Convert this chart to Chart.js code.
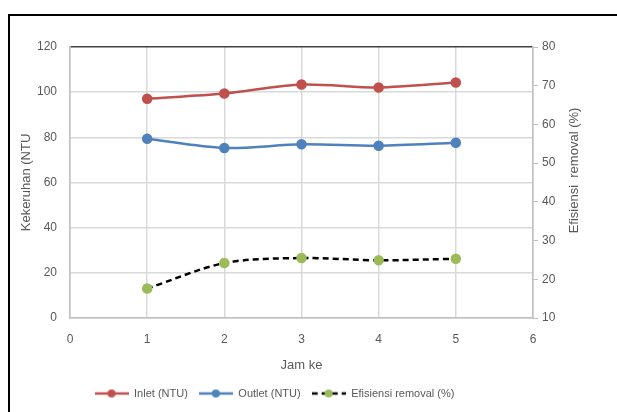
<!DOCTYPE html>
<html>
<head>
<meta charset="utf-8">
<script src="https://cdn.jsdelivr.net/npm/chart.js@4"></script>
<style>
    html, body { margin: 0; padding: 0; background: #fff; }
    #frame {
        position: absolute; left: 8px; top: 14px; width: 700px; height: 500px;
        border-left: 2px solid #000; border-top: 2px solid #000;
    }
    #wrap { position: absolute; left: 0; top: 0; width: 617px; height: 412px; }
</style>
</head>
<body>
<div id="frame"></div>
<div id="wrap"><canvas id="chart"></canvas></div>
<script>
const jamKe = [1, 2, 3, 4, 5];
const inlet = [97.1, 99.4, 103.4, 102.1, 104.3];
const outlet = [79.4, 75.3, 76.9, 76.3, 77.6];
const efisiensi = [17.6, 24.2, 25.5, 24.9, 25.3];

const FONT = '"Liberation Sans", Arial, sans-serif';
const TEXT = '#595959';

// gambar penanda legenda: garis + titik
function legendMarker(lineColor, dotColor, dashed) {
    const c = document.createElement('canvas');
    c.width = 34;
    c.height = 10;
    const g = c.getContext('2d');
    g.strokeStyle = lineColor;
    g.lineWidth = 2.5;
    if (dashed) g.setLineDash([6, 4]);
    g.beginPath();
    g.moveTo(0, 5);
    g.lineTo(34, 5);
    g.stroke();
    g.fillStyle = dotColor;
    g.beginPath();
    g.arc(17, 5, 4, 0, Math.PI * 2);
    g.fill();
    return c;
}

const markers = [
    legendMarker('#c0504d', '#c0504d', false),
    legendMarker('#4f81bd', '#4f81bd', false),
    legendMarker('#000000', '#9bbb59', true)
];

const toXY = (ys) => ys.map((y, i) => ({ x: jamKe[i], y: y }));

// judul sumbu kanan dibaca dari bawah ke atas (seperti Excel)
const rightTitle = {
    id: 'rightTitle',
    afterLayout(chart) {
        // legenda di gambar asli agak bergeser ke kiri
        chart.legend.left -= 33;
        chart.legend.right -= 33;
    },
    afterDraw(chart) {
        const s = chart.scales.y1;
        const ctx = chart.ctx;
        ctx.save();
        ctx.translate(s.right - 33, (s.top + s.bottom) / 2 - 12);
        ctx.rotate(-Math.PI / 2);
        ctx.font = '13px ' + FONT;
        ctx.fillStyle = TEXT;
        ctx.textAlign = 'center';
        ctx.textBaseline = 'middle';
        ctx.fillText('Efisiensi  removal (%)', 0, 0);
        ctx.restore();
    }
};

new Chart(document.getElementById('chart'), {
    type: 'line',
    data: {
        datasets: [
            {
                label: 'Inlet (NTU)',
                data: toXY(inlet),
                yAxisID: 'y',
                borderColor: '#c0504d',
                backgroundColor: '#c0504d',
                borderWidth: 2.5,
                pointRadius: 4,
                tension: 0.3
            },
            {
                label: 'Outlet (NTU)',
                data: toXY(outlet),
                yAxisID: 'y',
                borderColor: '#4f81bd',
                backgroundColor: '#4f81bd',
                borderWidth: 2.5,
                pointRadius: 4,
                tension: 0.3
            },
            {
                label: 'Efisiensi removal (%)',
                data: toXY(efisiensi),
                yAxisID: 'y1',
                borderColor: '#000000',
                backgroundColor: '#9bbb59',
                pointBorderColor: '#9bbb59',
                borderWidth: 2.5,
                borderDash: [6, 4],
                pointRadius: 4,
                tension: 0.3
            }
        ]
    },
    options: {
        responsive: true,
        maintainAspectRatio: false,
        animation: false,
        layout: { padding: { left: 8, right: 10, top: 47, bottom: 3 } },
        plugins: {
            tooltip: { enabled: false },
            legend: {
                position: 'bottom',
                labels: {
                    color: TEXT,
                    font: { family: FONT, size: 11 },
                    usePointStyle: true,
                    pointStyleWidth: 34,
                    boxHeight: 10,
                    padding: 11,
                    generateLabels: (chart) => chart.data.datasets.map((ds, i) => ({
                        text: ds.label,
                        pointStyle: markers[i],
                        fontColor: TEXT,
                        lineWidth: 0,
                        datasetIndex: i
                    }))
                }
            }
        },
        scales: {
            x: {
                type: 'linear',
                min: 0,
                max: 6,
                ticks: { stepSize: 1, color: TEXT, font: { family: FONT, size: 12 }, padding: 14 },
                grid: { color: '#d9d9d9', lineWidth: 1.5, drawTicks: false },
                border: { color: '#bfbfbf', width: 1.5 },
                title: { display: true, text: 'Jam ke', color: TEXT, font: { family: FONT, size: 13 }, padding: { top: 0, bottom: 4 } },
                afterFit: (s) => { s.height = 59; }
            },
            y: {
                position: 'left',
                min: 0,
                max: 120,
                ticks: { stepSize: 20, color: TEXT, font: { family: FONT, size: 12 }, padding: 13 },
                grid: {
                    color: (ctx) => ctx.tick && ctx.tick.value === 120 ? '#404040' : '#d9d9d9',
                    lineWidth: 1.5,
                    drawTicks: false
                },
                border: { color: '#bfbfbf', width: 1.5 },
                title: { display: true, text: 'Kekeruhan (NTU', color: TEXT, font: { family: FONT, size: 13 }, padding: { top: 11, bottom: 4 } },
                afterFit: (s) => { s.width = 62; }
            },
            y1: {
                position: 'right',
                min: 10,
                max: 80,
                ticks: { stepSize: 10, color: TEXT, font: { family: FONT, size: 12 }, padding: 4 },
                grid: { drawOnChartArea: false, color: '#bfbfbf', tickLength: 5 },
                border: { color: '#bfbfbf', width: 1.5 },
                afterFit: (s) => { s.width = 74; }
            }
        }
    },
    plugins: [rightTitle]
});
</script>
</body>
</html>
